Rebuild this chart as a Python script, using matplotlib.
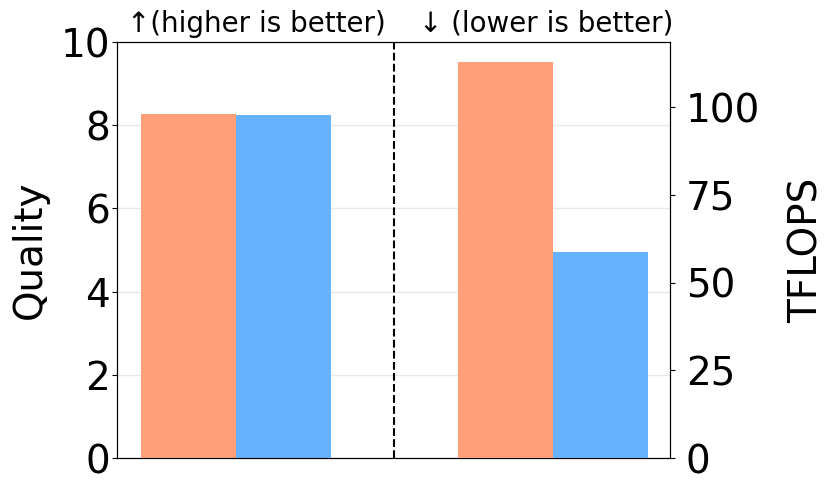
import matplotlib
matplotlib.use("Agg")
import matplotlib.pyplot as plt
import numpy as np

# values
methods = ["Baseline", "Ours"]
quality = [8.26, 8.24]
tflops = [112.9, 58.6]
colors = ["#FFA07A", "#66B2FF"]

fig = plt.figure(figsize=(8.31, 4.92), dpi=100)
ax = fig.add_axes([117 / 831, 1 - 458 / 492, 553 / 831, 416 / 492])
ax2 = ax.twinx()

width = 0.3
offsets = np.array([-width / 2, width / 2])

# left group: quality on left axis
for i, m in enumerate(methods):
    ax.bar(0 + offsets[i], quality[i], width, color=colors[i], label=m, zorder=3)
# right group: TFLOPS on right axis
for i, m in enumerate(methods):
    ax2.bar(1 + offsets[i], tflops[i], width, color=colors[i], zorder=3)

ax.set_xlim(-0.375, 1.37)
ax.set_ylim(0, 10)
ax2.set_ylim(0, max(tflops) * 1.05)
ax.set_yticks([0, 2, 4, 6, 8, 10])
ax2.set_yticks([0, 25, 50, 75, 100])
ax.set_xticks([])

ax.grid(True, axis="y", color="#e8e8e8", linewidth=1, zorder=0)
ax.axvline(0.5, color="black", linestyle="--", linewidth=1.5, zorder=4)

ax.tick_params(axis="y", labelsize=28, pad=1.5)
ax2.tick_params(axis="y", labelsize=28, pad=8)
ax.set_ylabel("Quality", fontsize=28, labelpad=8)
ax2.set_ylabel("TFLOPS", fontsize=28, labelpad=20)

ax.text(0.252, 1.01, "\u2191(higher is better)", transform=ax.transAxes,
        ha="center", va="bottom", fontsize=20)
ax.text(0.776, 1.01, "\u2193 (lower is better)", transform=ax.transAxes,
        ha="center", va="bottom", fontsize=20)

fig.savefig("out.png", dpi=100)
